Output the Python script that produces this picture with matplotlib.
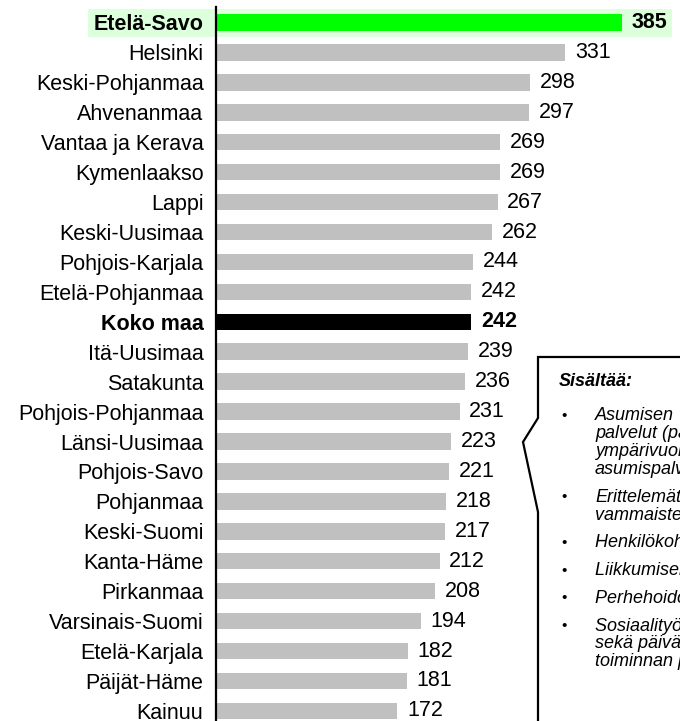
"""
Horizontal bar chart of regional values with a callout box listing what is included.
"""

import matplotlib.pyplot as plt
from matplotlib.patches import Rectangle, Polygon

plt.rcParams['font.family'] = ['Liberation Sans', 'DejaVu Sans']

regions = ['Etelä-Savo', 'Helsinki', 'Keski-Pohjanmaa', 'Ahvenanmaa', 'Vantaa ja Kerava',
           'Kymenlaakso', 'Lappi', 'Keski-Uusimaa', 'Pohjois-Karjala', 'Etelä-Pohjanmaa',
           'Koko maa', 'Itä-Uusimaa', 'Satakunta', 'Pohjois-Pohjanmaa', 'Länsi-Uusimaa',
           'Pohjois-Savo', 'Pohjanmaa', 'Keski-Suomi', 'Kanta-Häme', 'Pirkanmaa',
           'Varsinais-Suomi', 'Etelä-Karjala', 'Päijät-Häme', 'Kainuu']
values = [385, 331, 298, 297, 269, 269, 267, 262, 244, 242,
          242, 239, 236, 231, 223, 221, 218, 217, 212, 208,
          194, 182, 181, 172]
highlight = 'Etelä-Savo'
total = 'Koko maa'

callout_title = 'Sisältää:'
callout_items = [
    'Asumisen  tukitoimet ja\npalvelut (palveluasuminen,\nympärivuorokautinen\nasumispalvelu)',
    'Erittelemättömät\nvammaisten palvelut',
    'Henkilökohtainen apu',
    'Liikkumisen tuki',
    'Perhehoidon palvelut',
    'Sosiaalityö ja -ohjaus\nsekä päivä- ja työ-\ntoiminnan palvelut',
]

W, H = 680, 721
fig = plt.figure(figsize=(W / 100, H / 100), dpi=100)

# axes placed so that x=0 sits on the vertical line
ax = fig.add_axes([216 / W, 0, 1 - 216 / W, 1])
ax.set_zorder(1)
row0, step = 22.5, 29.93
ax.set_ylim((H - row0) / step, -row0 / step)
ax.set_xlim(0, (W - 216) / 1.0545)

# light green band behind the highlighted row
ax.add_patch(Rectangle((88 / W, 1 - 37 / H), (672 - 88) / W, 28 / H,
                       transform=fig.transFigure, facecolor='#dcffdc',
                       edgecolor='none', zorder=0, clip_on=False))

colors = []
for r in regions:
    if r == highlight:
        colors.append('#00ff00')
    elif r == total:
        colors.append('black')
    else:
        colors.append('#c0c0c0')

y = list(range(len(regions)))
ax.barh(y, values, height=0.55, color=colors, zorder=2)

for i, (r, v) in enumerate(zip(regions, values)):
    bold = r in (highlight, total)
    ax.annotate(str(v), (v, i), xytext=(7, 0), textcoords='offset points',
                va='center', ha='left', fontsize=15.5,
                fontweight='bold' if bold else 'normal', color='black')

ax.set_yticks(y)
ax.set_yticklabels(regions, fontsize=15.5)
for lbl in ax.get_yticklabels():
    if lbl.get_text() in (highlight, total):
        lbl.set_fontweight('bold')
ax.tick_params(axis='y', length=0, pad=9)
ax.set_xticks([])
for s in ax.spines.values():
    s.set_visible(False)
ax.patch.set_alpha(0)

# vertical axis line
ax.plot([0, 0], [-0.52, (H - row0) / step], color='black', lw=1.6,
        clip_on=False, zorder=3)

# callout box with a notch pointing left
px = lambda x, yy: (x / W, 1 - yy / H)
box = Polygon([px(700, 357), px(538, 357), px(538, 418), px(523, 442),
               px(538, 512), px(538, 740), px(700, 740)],
              closed=True, transform=fig.transFigure, facecolor='white',
              edgecolor='black', lw=1.6, zorder=5)
fig.patches.append(box)

fig.text(559 / W, 1 - 382 / H, callout_title, fontsize=13, fontweight='bold',
         fontstyle='italic', va='center', ha='left', zorder=6)

line_h = 17.8
yy = 416
for item in callout_items:
    lines = item.split('\n')
    fig.text(561 / W, 1 - yy / H, '•', fontsize=11, va='center', ha='left', zorder=6)
    for k, ln in enumerate(lines):
        fig.text(595 / W, 1 - (yy + k * line_h) / H, ln, fontsize=13,
                 fontstyle='italic', va='center', ha='left', zorder=6)
    yy += (len(lines) - 1) * line_h + 27.8

fig.savefig('out.png', dpi=100)
